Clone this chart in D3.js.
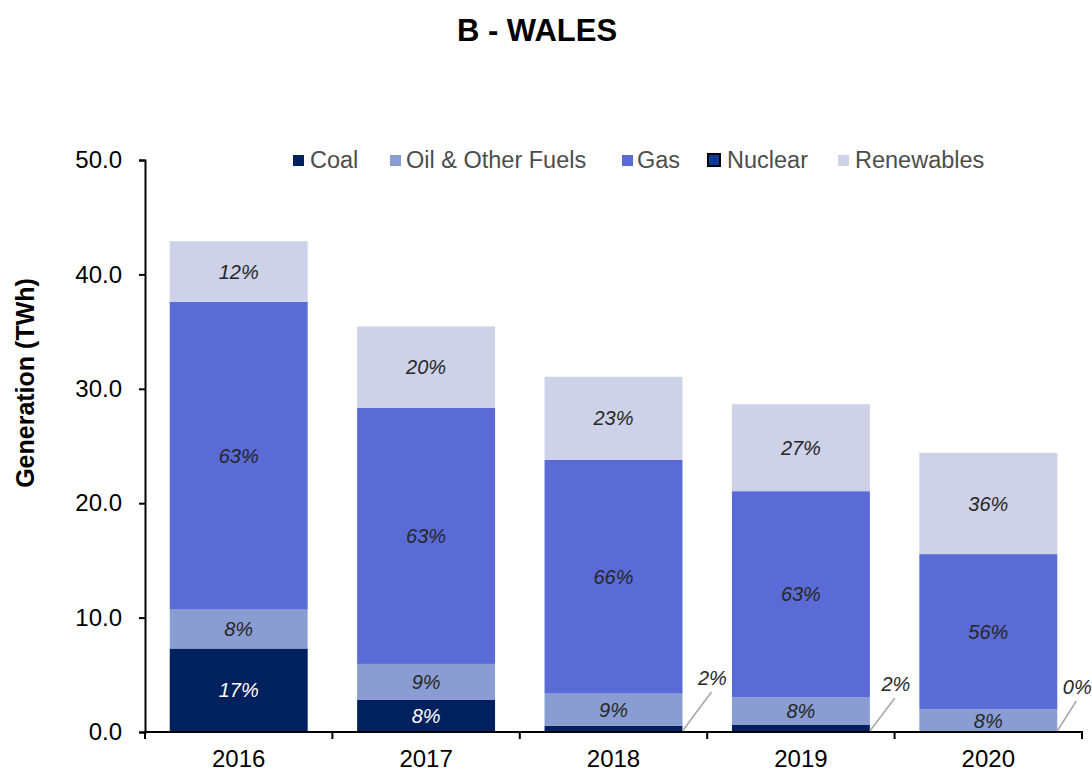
<!DOCTYPE html>
<html>
<head>
<meta charset="utf-8">
<script src="https://cdn.jsdelivr.net/npm/d3@7.9.0/dist/d3.min.js"></script>
<style>
  body { margin: 0; background: #fff; }
  svg { font-family: Arial, "Liberation Sans", sans-serif; }
</style>
</head>
<body>
<svg id="chart" width="1092" height="771"></svg>
<script>
// values in TWh
const years = ['2016', '2017', '2018', '2019', '2020'];
const coal = [7.3, 2.8, 0.55, 0.65, 0];
const oil = [3.4, 3.15, 2.8, 2.4, 2.0];
const gas = [26.9, 22.4, 20.45, 18.0, 13.55];
const nuclear = [0, 0, 0, 0, 0];
const renewables = [5.3, 7.1, 7.25, 7.6, 8.85];

// share labels as printed on the chart
const coalPct = ['17%', '8%', '2%', '2%', '0%'];
const oilPct = ['8%', '9%', '9%', '8%', '8%'];
const gasPct = ['63%', '63%', '66%', '63%', '56%'];
const renewPct = ['12%', '20%', '23%', '27%', '36%'];

const yTicks = [0, 10, 20, 30, 40, 50];

const seriesNames = ['Coal', 'Oil & Other Fuels', 'Gas', 'Nuclear', 'Renewables'];
const keys = ['coal', 'oil', 'gas', 'nuclear', 'renewables'];
const colors = {
  coal: '#00205E',
  oil: '#8A9DD2',
  gas: '#5B6BD6',
  nuclear: '#0A3A9A',
  renewables: '#CDD2E8'
};
const pctLabels = { coal: coalPct, oil: oilPct, gas: gasPct, renewables: renewPct };

let rows = years.map((y, i) => ({
  year: y,
  coal: coal[i],
  oil: oil[i],
  gas: gas[i],
  nuclear: nuclear[i],
  renewables: renewables[i]
}));

const svg = d3.select('#chart');

const x = d3.scaleBand().domain(years).range([145, 1082]).paddingInner(0.264).paddingOuter(0.132);
const y = d3.scaleLinear().domain([0, 50]).range([732, 160]);

let stacked = d3.stack().keys(keys)(rows);

// bars
stacked.forEach((layer) => {
  svg.append('g')
    .selectAll('rect')
    .data(layer)
    .join('rect')
    .attr('x', (d) => x(d.data.year))
    .attr('y', (d) => y(d[1]))
    .attr('width', x.bandwidth())
    .attr('height', (d) => y(d[0]) - y(d[1]))
    .attr('fill', colors[layer.key]);
});

// labels inside segments
stacked.forEach((layer) => {
  if (!pctLabels[layer.key]) return;
  layer.forEach((d, i) => {
    let h = y(d[0]) - y(d[1]);
    if (layer.key === 'coal' && h < 20) return; // drawn with leader lines below
    svg.append('text')
      .attr('x', x(d.data.year) + x.bandwidth() / 2)
      .attr('y', (y(d[0]) + y(d[1])) / 2)
      .attr('dy', '0.36em')
      .attr('text-anchor', 'middle')
      .attr('font-size', 20)
      .attr('font-style', 'italic')
      .attr('fill', layer.key === 'coal' ? '#ffffff' : '#262626')
      .text(pctLabels[layer.key][i]);
  });
});

// small coal labels with leader lines
const leaderOffsets = [[29, 39], [25, 33], [19, 30]];
let small = stacked[0].map((d, i) => ({ d, i })).filter(({ d }) => y(d[0]) - y(d[1]) < 20);
small.forEach(({ d, i }, k) => {
  let off = leaderOffsets[k] || [25, 33];
  let x0 = x(d.data.year) + x.bandwidth();
  let y0 = y(0) - 1;
  svg.append('line')
    .attr('x1', x0).attr('y1', y0)
    .attr('x2', x0 + off[0]).attr('y2', y0 - off[1])
    .attr('stroke', '#a6a6a6')
    .attr('stroke-width', 1.5);
  svg.append('text')
    .attr('x', x0 + off[0] + 1)
    .attr('y', y0 - off[1] - 7)
    .attr('text-anchor', 'middle')
    .attr('font-size', 20)
    .attr('font-style', 'italic')
    .attr('fill', '#262626')
    .text(coalPct[i]);
});

// y axis
let yAxis = svg.append('g')
  .attr('transform', 'translate(145,0)')
  .call(d3.axisLeft(y).tickValues(yTicks).tickFormat(d3.format('.1f')).tickSize(6).tickPadding(17));
yAxis.select('.domain').attr('stroke', '#000').attr('stroke-width', 2);
yAxis.selectAll('.tick line').attr('stroke', '#000').attr('stroke-width', 2);
yAxis.selectAll('.tick text').attr('font-size', 24).attr('fill', '#000').attr('font-family', 'Arial, "Liberation Sans", sans-serif');

// x axis with ticks at category boundaries
let xg = svg.append('g');
xg.append('line')
  .attr('x1', 144).attr('x2', 1083)
  .attr('y1', y(0)).attr('y2', y(0))
  .attr('stroke', '#000').attr('stroke-width', 2);
let step = x.step();
let bounds = years.map((yr) => x(yr) - (step - x.bandwidth()) / 2).concat([x(years[years.length - 1]) + x.bandwidth() + (step - x.bandwidth()) / 2]);
xg.selectAll('.xt')
  .data(bounds)
  .join('line')
  .attr('x1', (d) => d).attr('x2', (d) => d)
  .attr('y1', y(0)).attr('y2', y(0) + 7)
  .attr('stroke', '#000').attr('stroke-width', 2);
xg.selectAll('.xl')
  .data(years)
  .join('text')
  .attr('x', (d) => x(d) + x.bandwidth() / 2)
  .attr('y', 767)
  .attr('text-anchor', 'middle')
  .attr('font-size', 24)
  .attr('fill', '#000')
  .text((d) => d);

// y axis title
svg.append('text')
  .attr('transform', 'translate(34,383) rotate(-90)')
  .attr('text-anchor', 'middle')
  .attr('font-size', 25)
  .attr('font-weight', 'bold')
  .attr('fill', '#000')
  .text('Generation (TWh)');

// title
svg.append('text')
  .attr('x', 537)
  .attr('y', 41)
  .attr('text-anchor', 'middle')
  .attr('font-size', 31)
  .attr('font-weight', 'bold')
  .attr('fill', '#000')
  .text('B - WALES');

// legend
const legendSwatchX = [293, 390, 622, 708, 838];
const legendTextX = [310, 406, 637, 727, 855];
let legend = svg.append('g');
seriesNames.forEach((name, i) => {
  let key = keys[i];
  let isNuc = key === 'nuclear';
  legend.append('rect')
    .attr('x', legendSwatchX[i])
    .attr('y', isNuc ? 154 : 155)
    .attr('width', isNuc ? 12 : 11)
    .attr('height', isNuc ? 12 : 11)
    .attr('fill', colors[key])
    .attr('stroke', isNuc ? '#000' : 'none')
    .attr('stroke-width', 2);
  legend.append('text')
    .attr('x', legendTextX[i])
    .attr('y', 160)
    .attr('dy', '0.36em')
    .attr('font-size', 23.5)
    .attr('fill', '#4d4d4d')
    .text(name);
});
</script>
</body>
</html>
